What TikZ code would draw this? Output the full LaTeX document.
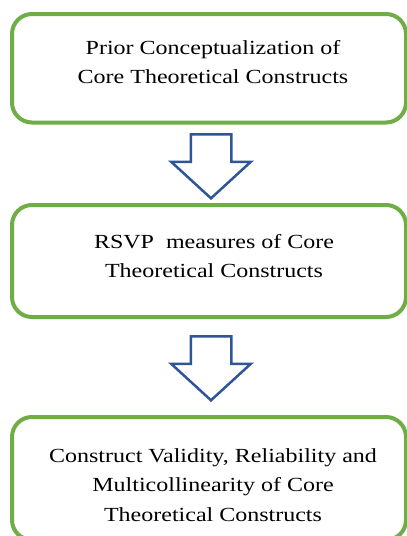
\documentclass[tikz,border=0pt]{standalone}
\usepackage{fontspec}
\setmainfont{Liberation Serif}[FakeStretch=1.2]
\usetikzlibrary{shapes.arrows}
\definecolor{boxgreen}{HTML}{70AD47}
\definecolor{arrblue}{HTML}{2F5597}

\begin{document}
\begin{tikzpicture}[
  x=1pt, y=1pt,
  font=\fontsize{20}{29.5}\selectfont,
  blk/.style={draw=boxgreen, line width=4pt, rounded corners=20pt, minimum width=394pt, fill=white},
  txt/.style={align=center, inner sep=0pt},
  down/.style={single arrow, draw=arrblue, line width=2.5pt, fill=white, rotate=-90, anchor=tip,
    single arrow head extend=19.5pt, single arrow tip angle=95, inner xsep=0pt, inner ysep=19pt,
    minimum height=64pt}]

\useasboundingbox (0,0) rectangle (407,-536);

\node[blk, minimum height=108.5pt] (prior) at (209,-68.25) {};
\node[blk, minimum height=112pt] (rsvp) at (209,-261) {};
\node[blk, minimum height=123pt] (valid) at (209,-478.5) {};

\node[txt] (prior-t) at (213,-62) {Prior Conceptualization of\\Core Theoretical Constructs};
\node[txt] (rsvp-t) at (214,-256) {RSVP\ \ measures of Core\\Theoretical Constructs};
\node[txt] (valid-t) at (213,-485) {Construct Validity, Reliability and\\Multicollinearity of Core\\Theoretical Constructs};

\node[down] (a1) at (211,-200) {};
\node[down] (a2) at (211,-402) {};
\end{tikzpicture}
\end{document}
